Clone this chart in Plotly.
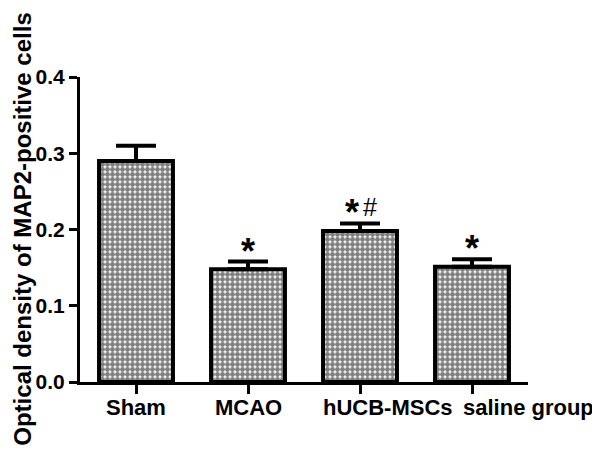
import plotly.graph_objects as go

categories = ["Sham", "MCAO", "hUCB-MSCs", "saline group"]
values = [0.290, 0.148, 0.198, 0.151]
errors = [0.020, 0.010, 0.010, 0.010]
stars = ["", "*", "*", "*"]
hashes = ["", "", "#", ""]
label_shift = [0, 0, 28, 56]
y_ticks = [0.0, 0.1, 0.2, 0.3, 0.4]
y_title = "Optical density of MAP2-positive cells"

FONT = "Liberation Sans, Arial, sans-serif"

fig = go.Figure()
fig.add_trace(go.Bar(
    x=categories,
    y=values,
    width=0.66,
    marker=dict(
        color="white",
        line=dict(color="black", width=4),
        pattern=dict(shape=".", fgcolor="black", bgcolor="white", size=5, solidity=0.75),
    ),
    error_y=dict(type="data", array=errors, arrayminus=[0] * len(errors),
                 color="black", thickness=4, width=20),
    showlegend=False,
))

for c, v, e, s, h in zip(categories, values, errors, stars, hashes):
    if s:
        fig.add_annotation(x=c, y=v + e, text=s, showarrow=False, yanchor="bottom",
                           xshift=-8 if h else 0, yshift=-12,
                           font=dict(family=FONT, size=36, color="black"))
    if h:
        fig.add_annotation(x=c, y=v + e, text=h, showarrow=False, yanchor="bottom",
                           xshift=10, yshift=0,
                           font=dict(family=FONT, size=25, color="black", weight="normal"))

for c, s in zip(categories, label_shift):
    fig.add_annotation(x=c, y=0, xref="x", yref="y", text=c, showarrow=False,
                       xanchor="center", yanchor="top", xshift=s, yshift=-11,
                       font=dict(family=FONT, size=22, color="black", weight="bold"))

fig.update_layout(
    width=592, height=448,
    margin=dict(l=72, r=72, t=69, b=74, autoexpand=False),
    plot_bgcolor="white", paper_bgcolor="white",
    font=dict(family=FONT, color="black", weight="bold"),
)
fig.update_xaxes(
    range=[-0.5, 3.5],
    showticklabels=False, automargin=False,
    showline=True, linecolor="black", linewidth=3,
    ticks="outside", ticklen=9, tickwidth=3, tickcolor="black",
    showgrid=False, zeroline=False,
)
fig.update_yaxes(
    range=[0, 0.4], automargin=False,
    tickvals=y_ticks, ticktext=[f"{t:.1f}" for t in y_ticks],
    showline=True, linecolor="black", linewidth=3,
    ticks="outside", ticklen=8, tickwidth=3, tickcolor="black",
    tickfont=dict(family=FONT, size=21, color="black", weight="bold"),
    showgrid=False, zeroline=False,
)
fig.add_annotation(
    xref="paper", yref="paper", x=-0.129, y=0.5, xanchor="center", yanchor="middle",
    text=y_title, textangle=-90, showarrow=False,
    font=dict(family=FONT, size=24, color="black", weight="bold"),
)

fig.write_html("out.html")
